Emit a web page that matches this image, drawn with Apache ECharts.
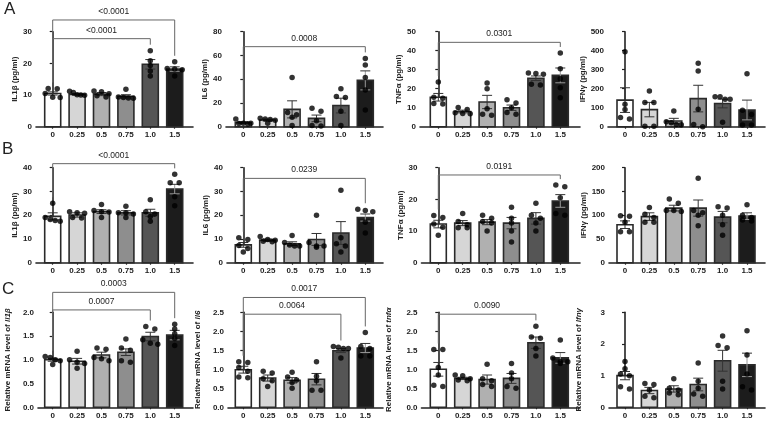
<!DOCTYPE html>
<html>
<head>
<meta charset="utf-8">
<script src="https://cdn.jsdelivr.net/npm/echarts@6.0.0/dist/echarts.min.js"></script>
<style>
  html, body { margin: 0; padding: 0; background: #fff; }
  #chart { width: 767px; height: 424px; }
</style>
</head>
<body>
<div id="chart"></div>
<script>
// 剂量分组 (x 轴)
const categories = ['0', '0.25', '0.5', '0.75', '1.0', '1.5'];

// ---- A: 蛋白 (pg/ml), 第一组 ----
const a1Mean = [10.5, 10.2, 10.3, 9.6, 19.7, 18.2];
const a1Sem = [0.5, 0.3, 0.5, 0.5, 1.5, 0.7];
const a1Points = [[12.1, 12.0, 10.5, 9.3, 9.2], [11.2, 10.8, 10.1, 10.0, 9.9], [11.3, 11.0, 10.4, 9.8, 9.4], [11.8, 9.4, 9.2, 9.1, 9.0], [24.0, 20.8, 19.3, 17.6, 16.0], [20.5, 18.4, 18.2, 18.0, 16.0]];
const a1Brackets = [[0, 4, 27.8, '<0.0001'], [0, 5, 33.7, '<0.0001']];

const a2Mean = [3.4, 5.6, 14.6, 7.0, 17.8, 39.0];
const a2Sem = [0.8, 0.8, 7.2, 2.8, 6.2, 8.0];
const a2Points = [[6.5, 3.0, 3.0, 2.6, 2.2], [7.2, 6.5, 6.0, 5.5, 3.0], [41.5, 12.0, 10.0, 8.0, 1.0], [15.5, 13.0, 5.0, 1.0, 0.5], [32.0, 25.5, 24.5, 13.0, 1.0], [57.5, 52.0, 41.5, 31.0, 14.0]];
const a2Brackets = [[0, 5, 67.4, '0.0008']];

const a3Mean = [15.5, 8.0, 13.0, 10.0, 25.5, 27.0];
const a3Sem = [2.0, 0.7, 3.5, 1.4, 1.2, 3.9];
const a3Points = [[23.5, 15.5, 15.0, 12.2, 12.0], [10.1, 9.0, 7.3, 7.0, 6.8], [23.0, 20.0, 9.5, 6.6, 6.0], [14.2, 12.5, 10.0, 7.5, 6.5], [28.2, 28.0, 27.6, 22.0, 22.3], [38.8, 30.5, 25.3, 20.5, 15.2]];
const a3Brackets = [[0, 5, 44.4, '0.0301']];

const a4Mean = [140, 90, 30, 148, 122, 88];
const a4Sem = [65, 38, 14, 70, 23, 52];
const a4Points = [[395, 118, 91, 49, 40], [188, 127, 127, 3, 3], [82, 26, 21, 12, 10], [334, 293, 92, 12, 0], [157, 157, 145, 145, 23], [279, 87, 64, 9, 9]];
const a4Brackets = [];

// ---- B: 蛋白 (pg/ml), 第二组 ----
const b1Mean = [19.5, 20.1, 21.5, 21.0, 21.0, 31.0];
const b1Sem = [1.5, 0.9, 0.8, 0.9, 1.5, 2.0];
const b1Points = [[25.0, 19.0, 18.2, 17.8, 17.5], [21.5, 21.0, 20.8, 19.0, 18.8], [24.5, 22.0, 21.5, 21.3, 19.0], [23.8, 21.0, 21.0, 20.5, 19.0], [26.5, 21.5, 20.5, 19.5, 17.5], [37.2, 33.7, 33.7, 27.8, 24.0]];
const b1Brackets = [[0, 5, 41.7, '<0.0001']];

const b2Mean = [7.5, 9.5, 8.0, 9.8, 12.5, 19.0];
const b2Sem = [1.0, 0.5, 0.8, 2.5, 4.8, 1.5];
const b2Points = [[10.5, 9.8, 7.2, 6.0, 4.5], [11.0, 9.8, 9.5, 9.0, 8.8], [11.5, 8.5, 7.5, 7.0, 7.0], [20.0, 8.5, 7.0, 7.0, 6.5], [30.5, 10.5, 8.0, 7.0, 4.5], [22.5, 22.0, 21.5, 17.0, 12.5]];
const b2Brackets = [[0, 5, 35.5, '0.0239']];

const b3Mean = [12.2, 12.5, 12.8, 12.5, 14.0, 19.5];
const b3Sem = [1.2, 0.8, 0.8, 1.8, 1.8, 2.0];
const b3Points = [[14.9, 14.3, 12.2, 11.2, 8.7], [15.5, 13.0, 12.0, 11.0, 11.0], [15.0, 14.0, 13.0, 12.5, 10.0], [17.5, 14.0, 12.5, 10.0, 6.5], [18.8, 15.0, 14.0, 12.5, 10.0], [24.5, 24.0, 20.5, 15.5, 15.0]];
const b3Brackets = [[0, 5, 27.7, '0.0191']];

const b4Mean = [80, 97, 115, 115, 96, 98];
const b4Sem = [8, 8, 6, 17, 12, 7];
const b4Points = [[99, 98, 85, 65, 65], [116, 102, 95, 85, 85], [134, 125, 110, 110, 108], [178, 110, 105, 100, 78], [118, 115, 100, 80, 58], [122, 100, 95, 90, 88]];
const b4Brackets = [];

// ---- C: mRNA 相对表达 ----
const c1Mean = [1.0, 0.97, 1.1, 1.16, 1.49, 1.52];
const c1Sem = [0.03, 0.06, 0.06, 0.07, 0.09, 0.1];
const c1Points = [[1.07, 1.05, 1.0, 0.98, 0.9], [1.18, 1.0, 0.95, 0.92, 0.82], [1.25, 1.22, 1.05, 1.02, 0.98], [1.44, 1.25, 1.2, 0.98, 0.95], [1.7, 1.65, 1.42, 1.35, 1.33], [1.75, 1.65, 1.55, 1.45, 1.3]];
const c1Brackets = [[0, 4, 2.05, '0.0007'], [0, 5, 2.42, '0.0003']];

const c2Mean = [0.99, 0.77, 0.71, 0.74, 1.49, 1.56];
const c2Sem = [0.09, 0.08, 0.07, 0.15, 0.05, 0.12];
const c2Points = [[1.2, 1.18, 1.05, 0.95, 0.8, 0.78], [0.95, 0.9, 0.75, 0.7, 0.55], [0.92, 0.8, 0.72, 0.65, 0.5], [1.2, 0.82, 0.7, 0.45, 0.45], [1.6, 1.58, 1.55, 1.55, 1.3], [1.97, 1.6, 1.55, 1.35, 1.35]];
const c2Brackets = [[0, 4, 2.45, '0.0064'], [0, 5, 2.89, '0.0017']];

const c3Mean = [1.0, 0.76, 0.73, 0.76, 1.7, 1.3];
const c3Sem = [0.18, 0.03, 0.12, 0.13, 0.15, 0.14];
const c3Points = [[1.52, 1.52, 1.05, 0.85, 0.58, 0.55], [0.85, 0.83, 0.75, 0.72, 0.7], [1.13, 0.75, 0.7, 0.6, 0.55], [1.15, 0.9, 0.75, 0.55, 0.5], [2.13, 1.85, 1.82, 1.55, 1.35], [1.77, 1.3, 1.2, 1.2, 1.15]];
const c3Brackets = [[0, 4, 2.45, '0.0090']];

const c4Mean = [1.0, 0.53, 0.58, 0.72, 1.47, 1.34];
const c4Sem = [0.13, 0.1, 0.1, 0.2, 0.33, 0.37];
const c4Points = [[1.45, 1.22, 1.05, 1.0, 0.65, 0.58], [0.75, 0.72, 0.55, 0.35, 0.3], [0.9, 0.6, 0.55, 0.45, 0.4], [1.4, 0.82, 0.6, 0.42, 0.35], [2.25, 1.95, 1.88, 0.82, 0.58], [2.42, 1.65, 1.05, 0.65, 0.55]];
const c4Brackets = [];

// ---- 样式/布局 ----
const FONT = '"Liberation Sans", Arial, Helvetica, sans-serif';
const INK = '#222';
const barFill = ['#ffffff', '#d6d6d6', '#b0b0b0', '#8e8e8e', '#555555', '#1c1c1c'];
const rowTop = [31.7, 167.7, 312.3];
const rowH = 95;
const axisLeft = [[36, 226, 420, 608], [36, 227, 421.5, 609], [38, 228, 421.5, 609]];
const firstCenter = [52.7, 243.3, 438.3, 625];
const axisRight = [193, 383, 580, 765];
const pitch = 24.4;   // 柱子间距
const barW = 16;

const panels = [
  { mean: a1Mean, sem: a1Sem, pts: a1Points, br: a1Brackets, name: 'IL1β (pg/ml)', max: 30, step: 10, gap: 13 },
  { mean: a2Mean, sem: a2Sem, pts: a2Points, br: a2Brackets, name: 'IL6 (pg/ml)', max: 80, step: 20, gap: 12 },
  { mean: a3Mean, sem: a3Sem, pts: a3Points, br: a3Brackets, name: 'TNFα (pg/ml)', max: 50, step: 10, gap: 12 },
  { mean: a4Mean, sem: a4Sem, pts: a4Points, br: a4Brackets, name: 'IFNγ (pg/ml)', max: 500, step: 100, gap: 18 },
  { mean: b1Mean, sem: b1Sem, pts: b1Points, br: b1Brackets, name: 'IL1β (pg/ml)', max: 40, step: 10, gap: 13 },
  { mean: b2Mean, sem: b2Sem, pts: b2Points, br: b2Brackets, name: 'IL6 (pg/ml)', max: 40, step: 10, gap: 13 },
  { mean: b3Mean, sem: b3Sem, pts: b3Points, br: b3Brackets, name: 'TNFα (pg/ml)', max: 30, step: 10, gap: 13 },
  { mean: b4Mean, sem: b4Sem, pts: b4Points, br: b4Brackets, name: 'IFNγ (pg/ml)', max: 200, step: 50, gap: 18 },
  { mean: c1Mean, sem: c1Sem, pts: c1Points, br: c1Brackets, name: 'Relative mRNA level of {i|Il1β}', max: 2.0, step: 0.5, gap: 26, dec: 1 },
  { mean: c2Mean, sem: c2Sem, pts: c2Points, br: c2Brackets, name: 'Relative mRNA level of {i|Il6}', max: 2.5, step: 0.5, gap: 26, dec: 1 },
  { mean: c3Mean, sem: c3Sem, pts: c3Points, br: c3Brackets, name: 'Relative mRNA level of {i|tnfα}', max: 2.5, step: 0.5, gap: 29, dec: 1 },
  { mean: c4Mean, sem: c4Sem, pts: c4Points, br: c4Brackets, name: 'Relative mRNA level of {i|Ifnγ}', max: 3, step: 1, gap: 26, dec: 0 }
];

// 点的水平散开 (值相近的点左右排开)
function swarm(vals, max) {
  const pxPerUnit = rowH / max;
  const order = vals.map((v, k) => k).sort((a, b) => vals[b] - vals[a]);
  const off = new Array(vals.length).fill(0);
  let group = [];
  const flush = () => {
    const k = group.length;
    const s = k > 1 ? Math.min(9, 15 / (k - 1)) : 0;
    group.forEach((g, n) => { off[g] = (n - (k - 1) / 2) * s; });
    group = [];
  };
  order.forEach(k => {
    if (group.length && (vals[group[0]] - vals[k]) * pxPerUnit > 4.5) flush();
    group.push(k);
  });
  flush();
  return off;
}

const grid = [], xAxis = [], yAxis = [], series = [];
panels.forEach((p, k) => {
  const row = Math.floor(k / 4), col = k % 4;
  const left = axisLeft[row][col];
  const width = axisRight[col] - left;
  const xMin = -(firstCenter[col] - left) / pitch;
  grid.push({ left: left, top: rowTop[row], width: width, height: rowH });
  xAxis.push({
    type: 'value', gridIndex: k, min: xMin, max: xMin + width / pitch,
    splitLine: { show: false },
    axisLine: { lineStyle: { color: INK, width: 1.6 } },
    axisTick: { customValues: [0, 1, 2, 3, 4, 5], length: 2, lineStyle: { color: INK, width: 1.2 } },
    axisLabel: {
      customValues: [0, 1, 2, 3, 4, 5], formatter: v => categories[Math.round(v)],
      color: INK, fontSize: 8, fontWeight: 'bold', fontFamily: FONT, margin: 4
    }
  });
  yAxis.push({
    type: 'value', gridIndex: k, min: 0, max: p.max, interval: p.step,
    splitLine: { show: false },
    axisLine: { show: true, lineStyle: { color: INK, width: 1.6 } },
    axisTick: { show: true, length: 3, lineStyle: { color: INK, width: 1.2 } },
    axisLabel: {
      color: INK, fontSize: 8, fontWeight: 'bold', fontFamily: FONT, margin: 4,
      formatter: v => p.dec === undefined ? String(v) : v.toFixed(p.dec)
    },
    name: p.name, nameLocation: 'middle', nameGap: p.gap,
    nameTextStyle: {
      color: INK, fontSize: 8, fontWeight: 'bold', fontFamily: FONT,
      rich: { i: { fontStyle: 'italic', fontSize: 8, fontWeight: 'bold', fontFamily: FONT, color: INK } }
    }
  });

  // 柱子
  series.push({
    type: 'custom', xAxisIndex: k, yAxisIndex: k, z: 2, silent: true,
    data: p.mean.map((m, i) => [i, m]),
    renderItem: (params, api) => {
      const i = api.value(0);
      const p0 = api.coord([i, 0]), p1 = api.coord([i, api.value(1)]);
      return {
        type: 'rect',
        shape: { x: p0[0] - barW / 2, y: p1[1], width: barW, height: p0[1] - p1[1] },
        style: { fill: barFill[i], stroke: '#2a2a2a', lineWidth: 1.6 }
      };
    }
  });
  // 误差线 (SEM)
  series.push({
    type: 'custom', xAxisIndex: k, yAxisIndex: k, z: 3, silent: true,
    data: p.mean.map((m, i) => [i, m, p.sem[i]]),
    renderItem: (params, api) => {
      const i = api.value(0), m = api.value(1), s = api.value(2);
      const t = api.coord([i, m + s]), b = api.coord([i, m - s]);
      const ls = { stroke: i === 5 ? '#9a9a9a' : '#333', lineWidth: 1 };
      return {
        type: 'group', children: [
          { type: 'line', shape: { x1: t[0], y1: t[1], x2: b[0], y2: b[1] }, style: ls },
          { type: 'line', shape: { x1: t[0] - 5, y1: t[1], x2: t[0] + 5, y2: t[1] }, style: { stroke: '#333', lineWidth: 1 } },
          { type: 'line', shape: { x1: b[0] - 5, y1: b[1], x2: b[0] + 5, y2: b[1] }, style: ls }
        ]
      };
    }
  });
  // 单个样本点
  const dots = [];
  p.pts.forEach((vals, i) => {
    const off = swarm(vals, p.max);
    vals.forEach((v, n) => dots.push({ value: [i, v], symbolOffset: [off[n], 0] }));
  });
  series.push({
    type: 'scatter', xAxisIndex: k, yAxisIndex: k, z: 4, silent: true,
    symbol: 'circle', symbolSize: 5.5, itemStyle: { color: '#000' }, data: dots
  });
  // 显著性标注
  if (p.br.length) {
    const topVal = p.pts.map((vals, i) => Math.max(Math.max(...vals), p.mean[i] + p.sem[i]));
    series.push({
      type: 'custom', xAxisIndex: k, yAxisIndex: k, z: 5, silent: true, clip: false,
      data: p.br.map(b => [b[0], b[1], b[2]]),
      renderItem: (params, api) => {
        const i = api.value(0), j = api.value(1), y = api.value(2);
        const a = api.coord([i, y]), c = api.coord([j, y]);
        const ai = api.coord([i, topVal[i]])[1] - 6;
        const aj = api.coord([j, topVal[j]])[1] - 6;
        return {
          type: 'group', children: [
            { type: 'polyline', shape: { points: [[a[0], ai], [a[0], a[1]], [c[0], c[1]], [c[0], aj]] },
              style: { stroke: '#666', lineWidth: 1, fill: null } },
            { type: 'text', x: (a[0] + c[0]) / 2, y: a[1] - 4,
              style: { text: p.br[params.dataIndex][3], fill: INK, fontSize: 8.5, fontFamily: FONT,
                       textAlign: 'center', textVerticalAlign: 'bottom' } }
          ]
        };
      }
    });
  }
});

const chart = echarts.init(document.getElementById('chart'));
chart.setOption({
  animation: false,
  backgroundColor: '#fff',
  textStyle: { fontFamily: FONT },
  graphic: [
    { type: 'text', left: 4, top: 1, style: { text: 'A', fontSize: 17, fill: INK, fontFamily: FONT } },
    { type: 'text', left: 2, top: 141, style: { text: 'B', fontSize: 17, fill: INK, fontFamily: FONT } },
    { type: 'text', left: 2, top: 281, style: { text: 'C', fontSize: 17, fill: INK, fontFamily: FONT } }
  ],
  grid: grid, xAxis: xAxis, yAxis: yAxis, series: series
});
</script>
</body>
</html>
